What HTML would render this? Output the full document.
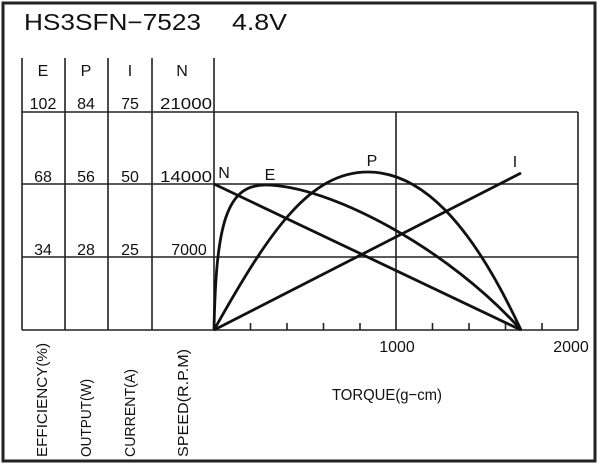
<!DOCTYPE html>
<html><head><meta charset="utf-8"><style>
html,body{margin:0;padding:0;background:#fff;}
svg{display:block;}
text{font-family:"Liberation Sans",sans-serif;fill:#111;}
</style></head><body>
<svg width="600" height="465" viewBox="0 0 600 465">
<rect x="3" y="3" width="592" height="458" fill="none" stroke="#222" stroke-width="3"/>
<text x="24" y="30" font-size="23" textLength="177" lengthAdjust="spacingAndGlyphs">HS3SFN−7523</text>
<text x="232" y="30" font-size="23" textLength="55" lengthAdjust="spacingAndGlyphs">4.8V</text>
<g stroke="#222" stroke-width="1.6" fill="none">
<line x1="22" y1="58" x2="22" y2="330"/>
<line x1="65" y1="58" x2="65" y2="330"/>
<line x1="108" y1="58" x2="108" y2="330"/>
<line x1="152" y1="58" x2="152" y2="330"/>
<line x1="214" y1="58" x2="214" y2="330"/>
<line x1="22" y1="112" x2="578" y2="112"/>
<line x1="22" y1="184" x2="578" y2="184"/>
<line x1="22" y1="257" x2="578" y2="257"/>
<line x1="22" y1="330" x2="578" y2="330"/>
<line x1="578" y1="112" x2="578" y2="330"/>
<line x1="396" y1="112" x2="396" y2="330"/>
<path d="M250.5,330v-7M287,330v-7M323.5,330v-7M360,330v-7M432.5,330v-7M469,330v-7M505.5,330v-7M542,330v-7"/>
</g>
<g stroke="#111" stroke-width="2.8" fill="none">
<line x1="214" y1="184" x2="521" y2="330"/>
<line x1="214" y1="330" x2="521" y2="173"/>
<path d="M214,330 C216,225 226,185 265,185 C330,185 450,250 521,330"/>
<path d="M214,330 C270,230 310,172 368,172 C420,172 470,220 521,330"/>
</g>
<g font-size="16" text-anchor="middle">
<text x="43" y="76">E</text><text x="86" y="76">P</text><text x="130" y="76">I</text><text x="182" y="76">N</text>
<text x="43" y="109">102</text><text x="86" y="109">84</text><text x="130" y="109">75</text><text x="186" y="109" textLength="52" lengthAdjust="spacingAndGlyphs">21000</text>
<text x="43" y="182">68</text><text x="86" y="182">56</text><text x="130" y="182">50</text><text x="186" y="182" textLength="52" lengthAdjust="spacingAndGlyphs">14000</text>
<text x="43" y="255">34</text><text x="86" y="255">28</text><text x="130" y="255">25</text><text x="189" y="255">7000</text>
<text x="224" y="178">N</text><text x="270" y="180">E</text><text x="372" y="166">P</text><text x="515" y="167">I</text>
<text x="397" y="352">1000</text><text x="571" y="352">2000</text>
<text x="387" y="400" textLength="110" lengthAdjust="spacingAndGlyphs">TORQUE(g−cm)</text>
</g>
<g font-size="15">
<text transform="translate(47,457) rotate(-90)" textLength="114" lengthAdjust="spacingAndGlyphs">EFFICIENCY(%)</text>
<text transform="translate(91,457) rotate(-90)" textLength="78" lengthAdjust="spacingAndGlyphs">OUTPUT(W)</text>
<text transform="translate(135,457) rotate(-90)" textLength="88" lengthAdjust="spacingAndGlyphs">CURRENT(A)</text>
<text transform="translate(188,457) rotate(-90)" textLength="108" lengthAdjust="spacingAndGlyphs">SPEED(R.P.M)</text>
</g>
</svg>
</body></html>
